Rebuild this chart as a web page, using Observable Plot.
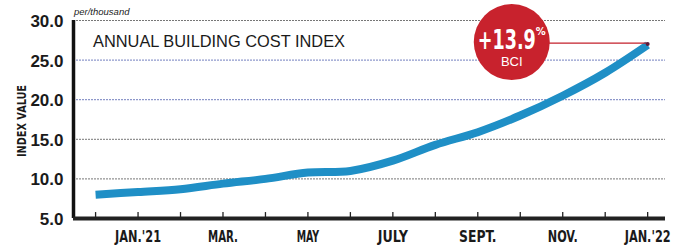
<!DOCTYPE html>
<html>
<head>
<meta charset="utf-8">
<script src="https://cdn.jsdelivr.net/npm/d3@7"></script>
<script src="https://cdn.jsdelivr.net/npm/@observablehq/plot@0.6"></script>
<style>
  html, body { margin: 0; padding: 0; background: #ffffff; }
  #chart { width: 675px; height: 246px; position: relative; }
  svg { display: block; }
</style>
</head>
<body>
<div id="chart"></div>
<script>
// ---- data ----
const months = ["DEC.'20", "JAN.'21", "FEB.", "MAR.", "APR.", "MAY", "JUNE", "JULY", "AUG.", "SEPT.", "OCT.", "NOV.", "DEC.", "JAN.'22"];
const labeledMonths = ["JAN.'21", "MAR.", "MAY", "JULY", "SEPT.", "NOV.", "JAN.'22"];
const indexValues = [8.0, 8.35, 8.7, 9.4, 10.0, 10.8, 11.0, 12.3, 14.3, 15.9, 18.0, 20.5, 23.4, 26.9];
const yTicks = [5, 10, 15, 20, 25, 30];
const gridValues = [10, 15, 20, 25, 30];
const badgeValue = "+13.9";
const badgeUnit = "%";
const badgeLabel = "BCI";
const title = "ANNUAL BUILDING COST INDEX";
const unitNote = "per/thousand";
const yLabel = "INDEX VALUE";

const data = months.map((m, i) => ({i, month: m, value: indexValues[i]}));
const last = data[data.length - 1];
const xDomain = [-0.52, 13.42];
const badgeX = 9.8;

const narrow = "'Liberation Sans Narrow', 'Arial Narrow', 'DejaVu Sans Condensed', sans-serif";
const plain = "'Liberation Sans', Arial, sans-serif";

const chart = Plot.plot({
  width: 675,
  height: 246,
  marginLeft: 73,
  marginRight: 10,
  marginTop: 20,
  marginBottom: 28,
  style: {background: "#ffffff", fontFamily: narrow},
  x: {domain: xDomain, axis: null},
  y: {domain: [5, 30], axis: null},
  marks: [
    // gridlines
    Plot.ruleY(gridValues, {
      stroke: d => (d === 20 || d === 25) ? "#4f5fae" : "#555555",
      strokeWidth: 1,
      strokeDasharray: "2,1",
      strokeOpacity: 0.8
    }),
    // the index line
    Plot.line(data, {
      x: "i", y: "value",
      stroke: "#1f8fc6",
      strokeWidth: 8,
      curve: "catmull-rom",
      strokeLinecap: "butt",
      strokeLinejoin: "round"
    }),
    // red connector from badge to end
    Plot.ruleY([last], {
      y: "value", x1: badgeX, x2: "i", dy: -2,
      stroke: "#c3202b", strokeWidth: 1.2
    }),
    Plot.dot([last], {x: "i", y: "value", dy: -1, r: 2, fill: "#5a1b3a"}),
    // axes lines
    Plot.ruleX([xDomain[0]], {y1: 5, y2: 30, stroke: "#111111", strokeWidth: 3.5}),
    Plot.ruleY([5], {stroke: "#222222", strokeWidth: 4}),
    // month ticks
    Plot.ruleX(data, {x: "i", y1: 5, y2: 5.75, stroke: "#222222", strokeWidth: 1.3}),
    // x labels
    Plot.text(data.filter(d => labeledMonths.includes(d.month)), {
      x: "i", y: 5, text: "month", dy: 19,
      fontSize: 15, fontWeight: "bold", fill: "#1a1a1a", fontFamily: narrow
    }),
    // y labels
    Plot.text(yTicks, {
      x: xDomain[0], y: d => d, text: d => d.toFixed(1),
      textAnchor: "end", dx: -10, dy: 1,
      fontSize: 17, fontWeight: "bold", fill: "#1a1a1a", fontFamily: plain
    }),
    // badge
    Plot.dot([last], {x: () => badgeX, y: "value", dy: -3, r: 38, fill: "#c8222d"}),
    Plot.text([last], {
      x: () => badgeX, y: "value", text: () => badgeValue, dy: -5, dx: -5,
      fontSize: 27, fontWeight: "bold", fill: "#ffffff", fontFamily: narrow
    }),
    Plot.text([last], {
      x: () => badgeX, y: "value", text: () => badgeUnit, dy: -14, dx: 29,
      fontSize: 11, fontWeight: "bold", fill: "#ffffff", fontFamily: narrow
    }),
    Plot.text([last], {
      x: () => badgeX, y: "value", text: () => badgeLabel, dy: 17,
      fontSize: 13, fill: "#ffffff", fontFamily: plain
    })
  ]
});

const svg = d3.select(chart);
// condense the badge figure to the reference's narrow look
svg.selectAll("text").filter(function() { return this.textContent === badgeValue; })
  .attr("textLength", 58).attr("lengthAdjust", "spacingAndGlyphs");
svg.selectAll("text").filter(function() { return labeledMonths.includes(this.textContent); })
  .attr("textLength", function() { return this.textContent.length > 5 ? 46 : this.textContent.length * 7.5; })
  .attr("lengthAdjust", "spacingAndGlyphs");

// title inside plot
svg.append("text")
  .attr("x", 93).attr("y", 47)
  .attr("text-anchor", "start")
  .attr("font-family", plain).attr("font-size", 16.5)
  .attr("fill", "#1a1a1a")
  .attr("textLength", 252).attr("lengthAdjust", "spacingAndGlyphs")
  .text(title);
// unit note
svg.append("text")
  .attr("x", 74).attr("y", 15)
  .attr("text-anchor", "start")
  .attr("font-family", plain).attr("font-size", 9.5)
  .attr("font-style", "italic")
  .attr("fill", "#222222")
  .text(unitNote);
// y axis label
svg.append("text")
  .attr("transform", "translate(22,121) rotate(-90)")
  .attr("text-anchor", "middle")
  .attr("dominant-baseline", "middle")
  .attr("font-family", narrow).attr("font-size", 12).attr("font-weight", "bold")
  .attr("fill", "#1a1a1a")
  .attr("textLength", 72).attr("lengthAdjust", "spacingAndGlyphs")
  .text(yLabel);

document.getElementById("chart").appendChild(chart);
</script>
</body>
</html>
